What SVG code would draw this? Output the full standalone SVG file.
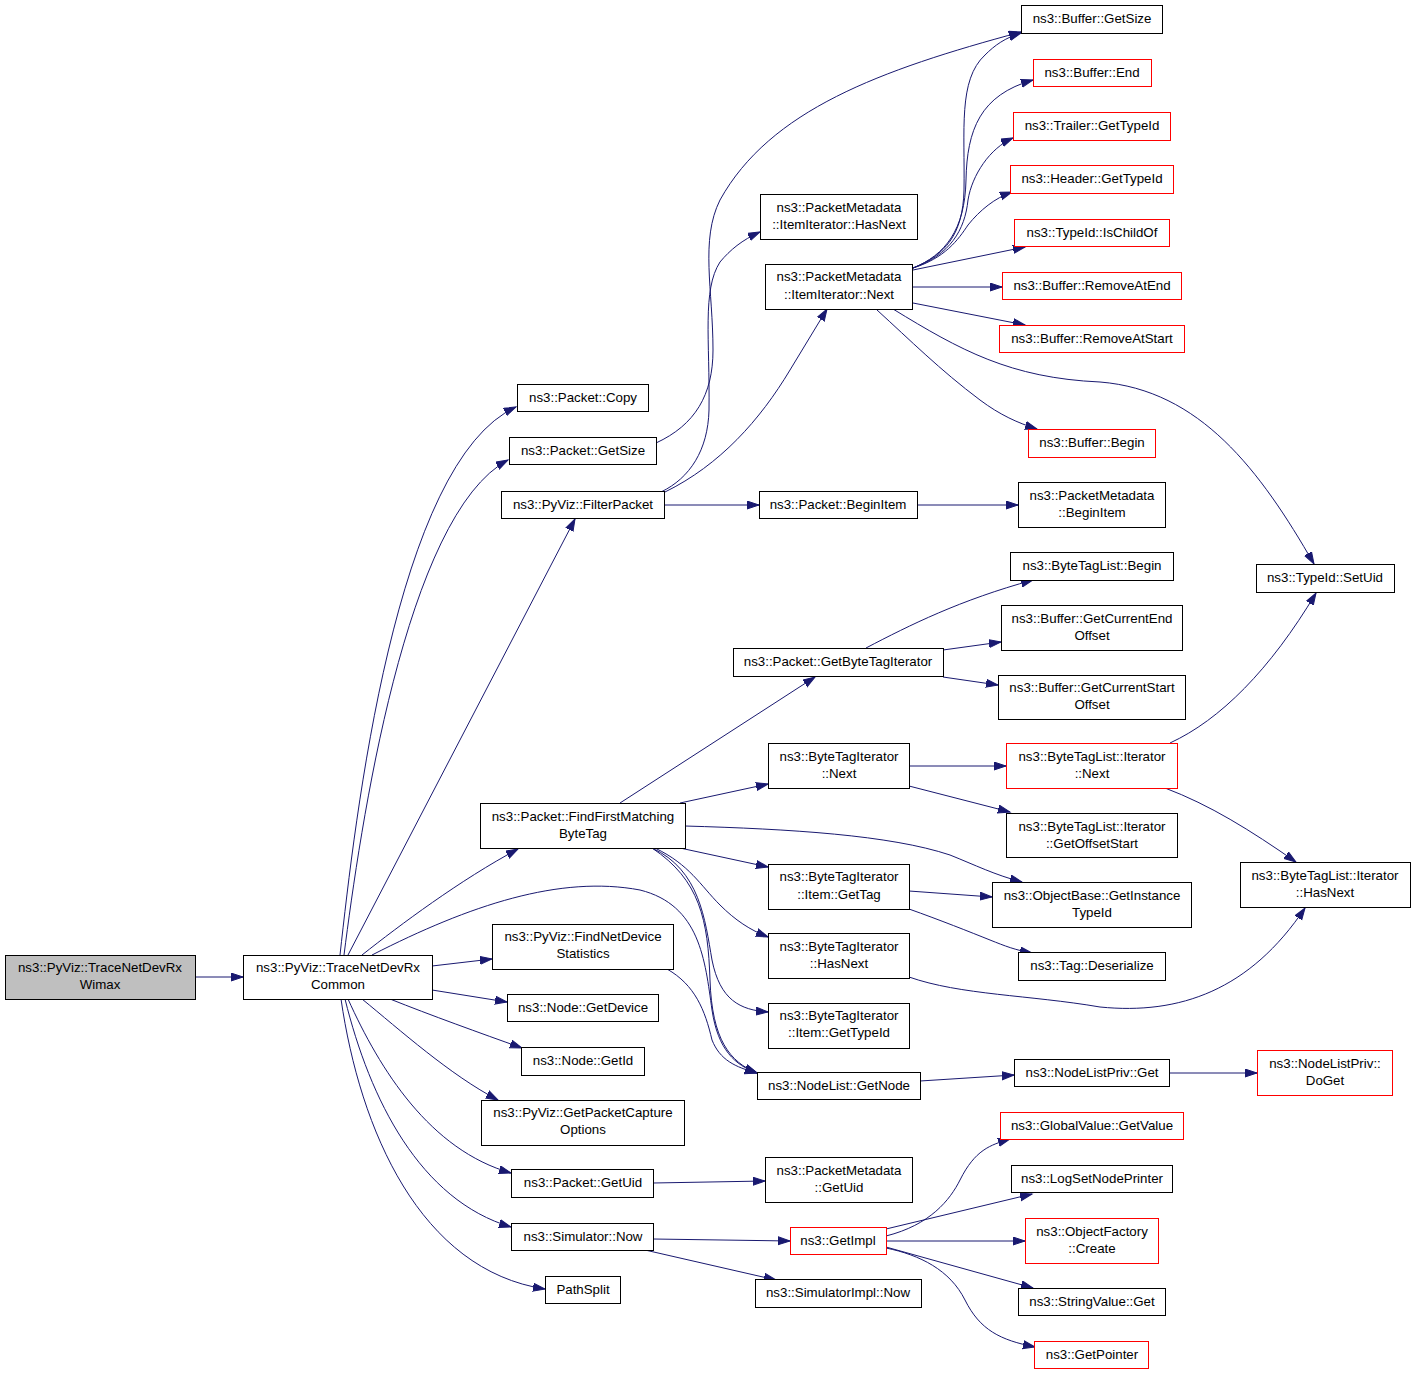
<svg xmlns="http://www.w3.org/2000/svg" width="1416" height="1376" viewBox="0 0 1416 1376">
<style>
rect{fill:#fff;stroke:#000;stroke-width:1}
.r rect{stroke:#f00}
.g rect{fill:#bfbfbf}
text{font-family:"Liberation Sans",Arial,Helvetica,sans-serif;font-size:13.3px;text-anchor:middle;fill:#000}
#edges path{fill:none;stroke:#191970;stroke-width:1;marker-end:url(#a)}
</style>
<defs>
<marker id="a" markerWidth="14" markerHeight="11" refX="12" refY="4.5" orient="auto" markerUnits="userSpaceOnUse">
<path d="M0,0.5 L12,4.5 L0,8.5 z" fill="#191970" stroke="#191970" stroke-width="1"/>
</marker>
</defs>
<rect x="0" y="0" width="1416" height="1376" style="stroke:none;fill:#fff"/>
<g id="edges">
<path d="M195,977 L243,977"/>
<path d="M340,955 C355,820 395,462 516,407"/>
<path d="M344,955 C360,830 405,515 508,460"/>
<path d="M348,955 L575,519"/>
<path d="M362,955 C400,925 460,880 518,849"/>
<path d="M372,955 C470,905 560,875 640,890 C700,905 705,960 712,1010 C718,1050 735,1065 757,1073"/>
<path d="M432,966 L492,959"/>
<path d="M432,990 L507,1002"/>
<path d="M390,999 C430,1015 480,1033 522,1048"/>
<path d="M362,999 C400,1030 450,1075 498,1100"/>
<path d="M348,999 C380,1070 430,1150 511,1173"/>
<path d="M345,999 C370,1100 420,1200 511,1227"/>
<path d="M341,999 C360,1130 420,1270 545,1289"/>
<path d="M656,443 C695,425 713,395 713,350 C713,290 700,240 720,200 C770,110 880,70 1021,32"/>
<path d="M661,492 C690,478 708,450 709,410 C710,340 702,290 720,262 C730,250 742,240 760,232"/>
<path d="M665,492 C720,465 760,420 790,370 L827,309"/>
<path d="M664,505 L759,505"/>
<path d="M917,505 L1018,505"/>
<path d="M913,268 C945,255 963,235 964,190 C965,130 958,80 985,55 C995,45 1005,38 1021,33"/>
<path d="M913,268 C945,255 965,230 966,180 C967,130 980,95 1033,80"/>
<path d="M913,268 C950,255 965,230 968,200 C972,175 990,148 1013,138"/>
<path d="M913,268 C945,258 958,240 968,225 C980,210 995,198 1012,192"/>
<path d="M913,270 L1025,247"/>
<path d="M912,287 L1002,287"/>
<path d="M913,303 L1025,325"/>
<path d="M877,310 C910,340 940,370 980,400 C1000,415 1018,423 1037,429"/>
<path d="M893,309 C960,350 1010,378 1100,382 C1200,390 1260,470 1314,564"/>
<path d="M620,803 L815,677"/>
<path d="M680,803 L768,784"/>
<path d="M685,826 C790,829 890,835 950,855 C975,865 995,875 1022,882"/>
<path d="M680,848 L768,867"/>
<path d="M655,848 C690,865 700,885 720,905 C735,920 750,930 768,937"/>
<path d="M652,848 C700,870 705,920 712,960 C720,1000 740,1010 768,1012"/>
<path d="M652,848 C700,880 708,920 710,980 C712,1040 730,1062 757,1073"/>
<path d="M667,969 C695,985 705,1010 712,1040 C720,1060 735,1067 757,1073"/>
<path d="M866,648 C910,625 960,600 1033,580"/>
<path d="M943,650 L1001,642"/>
<path d="M943,677 L998,685"/>
<path d="M909,766 L1006,766"/>
<path d="M909,786 L1010,812"/>
<path d="M1170,743 C1220,720 1270,670 1316,593"/>
<path d="M1165,788 C1210,805 1250,830 1296,862"/>
<path d="M909,891 L992,897"/>
<path d="M909,909 C940,920 970,932 990,940 C1005,946 1015,950 1032,953"/>
<path d="M909,977 C960,995 1030,995 1100,1007 C1180,1015 1250,990 1305,908"/>
<path d="M920,1081 L1014,1075"/>
<path d="M1169,1073 L1257,1073"/>
<path d="M653,1183 L765,1181"/>
<path d="M653,1239 L790,1241"/>
<path d="M645,1250 L776,1280"/>
<path d="M886,1236 C930,1225 950,1200 960,1180 C975,1150 990,1145 1010,1139"/>
<path d="M886,1229 L1032,1194"/>
<path d="M886,1241 L1025,1241"/>
<path d="M886,1247 L1033,1288"/>
<path d="M886,1248 C920,1255 950,1270 965,1300 C980,1330 1000,1340 1035,1347"/>
</g>
<g id="n0" class="g"><rect x="5.5" y="955.5" width="190" height="44"/><text x="100" y="972">ns3::PyViz::TraceNetDevRx</text><text x="100" y="989">Wimax</text></g>
<g id="n1"><rect x="243.5" y="955.5" width="189" height="44"/><text x="338" y="972">ns3::PyViz::TraceNetDevRx</text><text x="338" y="989">Common</text></g>
<g id="n2"><rect x="517.5" y="384.5" width="131" height="27"/><text x="583" y="402">ns3::Packet::Copy</text></g>
<g id="n3"><rect x="509.5" y="437.5" width="147" height="27"/><text x="583" y="455">ns3::Packet::GetSize</text></g>
<g id="n4"><rect x="501.5" y="491.5" width="163" height="27"/><text x="583" y="509">ns3::PyViz::FilterPacket</text></g>
<g id="n5"><rect x="480.5" y="803.5" width="205" height="45"/><text x="583" y="821">ns3::Packet::FindFirstMatching</text><text x="583" y="838">ByteTag</text></g>
<g id="n6"><rect x="492.5" y="924.5" width="181" height="45"/><text x="583" y="941">ns3::PyViz::FindNetDevice</text><text x="583" y="958">Statistics</text></g>
<g id="n7"><rect x="507.5" y="994.5" width="151" height="27"/><text x="583" y="1012">ns3::Node::GetDevice</text></g>
<g id="n8"><rect x="521.5" y="1047.5" width="123" height="28"/><text x="583" y="1065">ns3::Node::GetId</text></g>
<g id="n9"><rect x="481.5" y="1100.5" width="203" height="45"/><text x="583" y="1117">ns3::PyViz::GetPacketCapture</text><text x="583" y="1134">Options</text></g>
<g id="n10"><rect x="511.5" y="1169.5" width="142" height="28"/><text x="583" y="1187">ns3::Packet::GetUid</text></g>
<g id="n11"><rect x="511.5" y="1223.5" width="142" height="27"/><text x="583" y="1241">ns3::Simulator::Now</text></g>
<g id="n12"><rect x="545.5" y="1276.5" width="75" height="27"/><text x="583" y="1294">PathSplit</text></g>
<g id="n13"><rect x="760.5" y="194.5" width="157" height="45"/><text x="839" y="212">ns3::PacketMetadata</text><text x="839" y="229">::ItemIterator::HasNext</text></g>
<g id="n14"><rect x="765.5" y="264.5" width="147" height="45"/><text x="839" y="281">ns3::PacketMetadata</text><text x="839" y="299">::ItemIterator::Next</text></g>
<g id="n15"><rect x="759.5" y="491.5" width="158" height="27"/><text x="838" y="509">ns3::Packet::BeginItem</text></g>
<g id="n16"><rect x="733.5" y="648.5" width="210" height="28"/><text x="838" y="666">ns3::Packet::GetByteTagIterator</text></g>
<g id="n17"><rect x="768.5" y="743.5" width="141" height="45"/><text x="839" y="761">ns3::ByteTagIterator</text><text x="839" y="778">::Next</text></g>
<g id="n18"><rect x="768.5" y="864.5" width="141" height="45"/><text x="839" y="881">ns3::ByteTagIterator</text><text x="839" y="899">::Item::GetTag</text></g>
<g id="n19"><rect x="768.5" y="933.5" width="141" height="45"/><text x="839" y="951">ns3::ByteTagIterator</text><text x="839" y="968">::HasNext</text></g>
<g id="n20"><rect x="768.5" y="1003.5" width="141" height="45"/><text x="839" y="1020">ns3::ByteTagIterator</text><text x="839" y="1037">::Item::GetTypeId</text></g>
<g id="n21"><rect x="757.5" y="1072.5" width="163" height="27"/><text x="839" y="1090">ns3::NodeList::GetNode</text></g>
<g id="n22"><rect x="765.5" y="1157.5" width="147" height="45"/><text x="839" y="1175">ns3::PacketMetadata</text><text x="839" y="1192">::GetUid</text></g>
<g id="n23" class="r"><rect x="790.5" y="1227.5" width="96" height="27"/><text x="838" y="1245">ns3::GetImpl</text></g>
<g id="n24"><rect x="755.5" y="1279.5" width="166" height="28"/><text x="838" y="1297">ns3::SimulatorImpl::Now</text></g>
<g id="n25"><rect x="1021.5" y="5.5" width="141" height="28"/><text x="1092" y="23">ns3::Buffer::GetSize</text></g>
<g id="n26" class="r"><rect x="1033.5" y="59.5" width="118" height="27"/><text x="1092" y="77">ns3::Buffer::End</text></g>
<g id="n27" class="r"><rect x="1013.5" y="112.5" width="157" height="28"/><text x="1092" y="130">ns3::Trailer::GetTypeId</text></g>
<g id="n28" class="r"><rect x="1010.5" y="165.5" width="163" height="28"/><text x="1092" y="183">ns3::Header::GetTypeId</text></g>
<g id="n29" class="r"><rect x="1014.5" y="219.5" width="155" height="27"/><text x="1092" y="237">ns3::TypeId::IsChildOf</text></g>
<g id="n30" class="r"><rect x="1002.5" y="272.5" width="179" height="27"/><text x="1092" y="290">ns3::Buffer::RemoveAtEnd</text></g>
<g id="n31" class="r"><rect x="999.5" y="325.5" width="185" height="27"/><text x="1092" y="343">ns3::Buffer::RemoveAtStart</text></g>
<g id="n32" class="r"><rect x="1028.5" y="429.5" width="127" height="28"/><text x="1092" y="447">ns3::Buffer::Begin</text></g>
<g id="n33"><rect x="1018.5" y="482.5" width="147" height="45"/><text x="1092" y="500">ns3::PacketMetadata</text><text x="1092" y="517">::BeginItem</text></g>
<g id="n34"><rect x="1010.5" y="552.5" width="163" height="28"/><text x="1092" y="570">ns3::ByteTagList::Begin</text></g>
<g id="n35"><rect x="1001.5" y="605.5" width="181" height="45"/><text x="1092" y="623">ns3::Buffer::GetCurrentEnd</text><text x="1092" y="640">Offset</text></g>
<g id="n36"><rect x="998.5" y="675.5" width="187" height="44"/><text x="1092" y="692">ns3::Buffer::GetCurrentStart</text><text x="1092" y="709">Offset</text></g>
<g id="n37" class="r"><rect x="1006.5" y="743.5" width="171" height="45"/><text x="1092" y="761">ns3::ByteTagList::Iterator</text><text x="1092" y="778">::Next</text></g>
<g id="n38"><rect x="1006.5" y="813.5" width="171" height="44"/><text x="1092" y="831">ns3::ByteTagList::Iterator</text><text x="1092" y="848">::GetOffsetStart</text></g>
<g id="n39"><rect x="992.5" y="882.5" width="199" height="45"/><text x="1092" y="900">ns3::ObjectBase::GetInstance</text><text x="1092" y="917">TypeId</text></g>
<g id="n40"><rect x="1018.5" y="952.5" width="147" height="28"/><text x="1092" y="970">ns3::Tag::Deserialize</text></g>
<g id="n41"><rect x="1014.5" y="1059.5" width="155" height="27"/><text x="1092" y="1077">ns3::NodeListPriv::Get</text></g>
<g id="n42" class="r"><rect x="1000.5" y="1112.5" width="183" height="27"/><text x="1092" y="1130">ns3::GlobalValue::GetValue</text></g>
<g id="n43"><rect x="1011.5" y="1165.5" width="161" height="27"/><text x="1092" y="1183">ns3::LogSetNodePrinter</text></g>
<g id="n44" class="r"><rect x="1025.5" y="1218.5" width="133" height="45"/><text x="1092" y="1236">ns3::ObjectFactory</text><text x="1092" y="1253">::Create</text></g>
<g id="n45"><rect x="1018.5" y="1288.5" width="147" height="27"/><text x="1092" y="1306">ns3::StringValue::Get</text></g>
<g id="n46" class="r"><rect x="1034.5" y="1341.5" width="114" height="27"/><text x="1092" y="1359">ns3::GetPointer</text></g>
<g id="n47"><rect x="1256.5" y="564.5" width="138" height="28"/><text x="1325" y="582">ns3::TypeId::SetUid</text></g>
<g id="n48"><rect x="1240.5" y="862.5" width="170" height="45"/><text x="1325" y="880">ns3::ByteTagList::Iterator</text><text x="1325" y="897">::HasNext</text></g>
<g id="n49" class="r"><rect x="1257.5" y="1050.5" width="135" height="45"/><text x="1325" y="1068">ns3::NodeListPriv::</text><text x="1325" y="1085">DoGet</text></g>
</svg>
